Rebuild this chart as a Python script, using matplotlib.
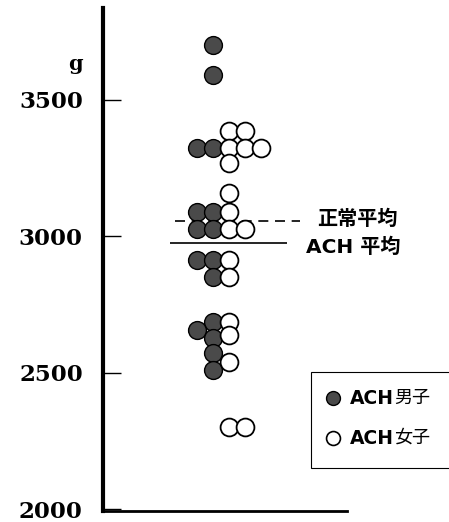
import matplotlib.pyplot as plt
from matplotlib.lines import Line2D
from matplotlib.patches import Rectangle

plt.rcParams['font.family'] = ['DejaVu Sans', 'Noto Sans CJK JP']

# Birth weights (g) and swarm column for each baby
boys_weight = [3700, 3590, 3325, 3325, 3090, 3090, 3027, 3027, 2913, 2913,
               2852, 2686, 2656, 2627, 2571, 2510]
boys_slot = [0, 0, -1, 0, -1, 0, -1, 0, -1, 0, 0, 0, -1, 0, 0, 0]

girls_weight = [3385, 3385, 3325, 3325, 3325, 3268, 3160, 3090, 3027, 3027,
                2913, 2852, 2686, 2638, 2540, 2302, 2302]
girls_slot = [1, 2, 1, 2, 3, 1, 1, 1, 1, 2, 1, 1, 1, 1, 1, 1, 2]

normal_mean = 3056
ach_mean = 2974

yticks = [2000, 2500, 3000, 3500]

fig = plt.figure(figsize=(4.49, 5.22), dpi=100)
ax = fig.add_axes([0.2294, 0.0211, 0.5434, 0.9636])

ax.scatter(boys_slot, boys_weight, s=165, facecolor='#4a4a4a',
           edgecolor='black', linewidth=1.0, zorder=3, clip_on=False)
ax.scatter(girls_slot, girls_weight, s=165, facecolor='white',
           edgecolor='black', linewidth=1.3, zorder=4, clip_on=False)

# mean lines
ax.hlines(normal_mean, -2.36, 5.46, colors='black', linewidth=1.2,
          linestyles=(0, (6, 4)), zorder=2)
ax.hlines(ach_mean, -2.67, 4.64, colors='black', linewidth=1.2, zorder=2)
ax.text(6.5, 3064, '正常平均', fontsize=14.5, fontweight='bold',
        va='center', ha='left')
ax.text(5.8, 2960, 'ACH 平均', fontsize=14.5, fontweight='bold',
        va='center', ha='left')

ax.set_xlim(-6.86, 8.39)
ax.set_ylim(1993, 3837)
ax.set_xticks([])
ax.set_yticks(yticks)
ax.set_yticklabels([str(t) for t in yticks], family='DejaVu Serif',
                   fontweight='bold', fontsize=16.5)
ax.tick_params(axis='y', direction='in', length=13, width=1.0, pad=14.5)
ax.spines['top'].set_visible(False)
ax.spines['right'].set_visible(False)
ax.spines['left'].set_linewidth(3.0)
ax.spines['bottom'].set_linewidth(2.0)

fig.text(0.168, 0.877, 'g', family='DejaVu Serif', fontweight='bold',
         fontsize=15, ha='center', va='center')

# legend box, running off the right edge
fig.add_artist(Rectangle((0.6927, 0.1034), 0.4, 0.184, transform=fig.transFigure,
                         facecolor='white', edgecolor='black', linewidth=0.8))
fig.add_artist(Line2D([0.7416], [0.2375], transform=fig.transFigure, marker='o',
                      markersize=10, markerfacecolor='#4a4a4a',
                      markeredgecolor='black', linestyle='none'))
fig.add_artist(Line2D([0.7416], [0.1609], transform=fig.transFigure, marker='o',
                      markersize=10, markerfacecolor='white',
                      markeredgecolor='black', markeredgewidth=1.2,
                      linestyle='none'))
for yy, word in [(0.2375, '男子'), (0.1609, '女子')]:
    fig.text(0.7795, yy, 'ACH', fontsize=13.5, fontweight='bold', va='center')
    fig.text(0.877, yy, word, fontsize=13, family='Noto Sans CJK JP',
             va='center')

fig.savefig('out.png', dpi=100)
